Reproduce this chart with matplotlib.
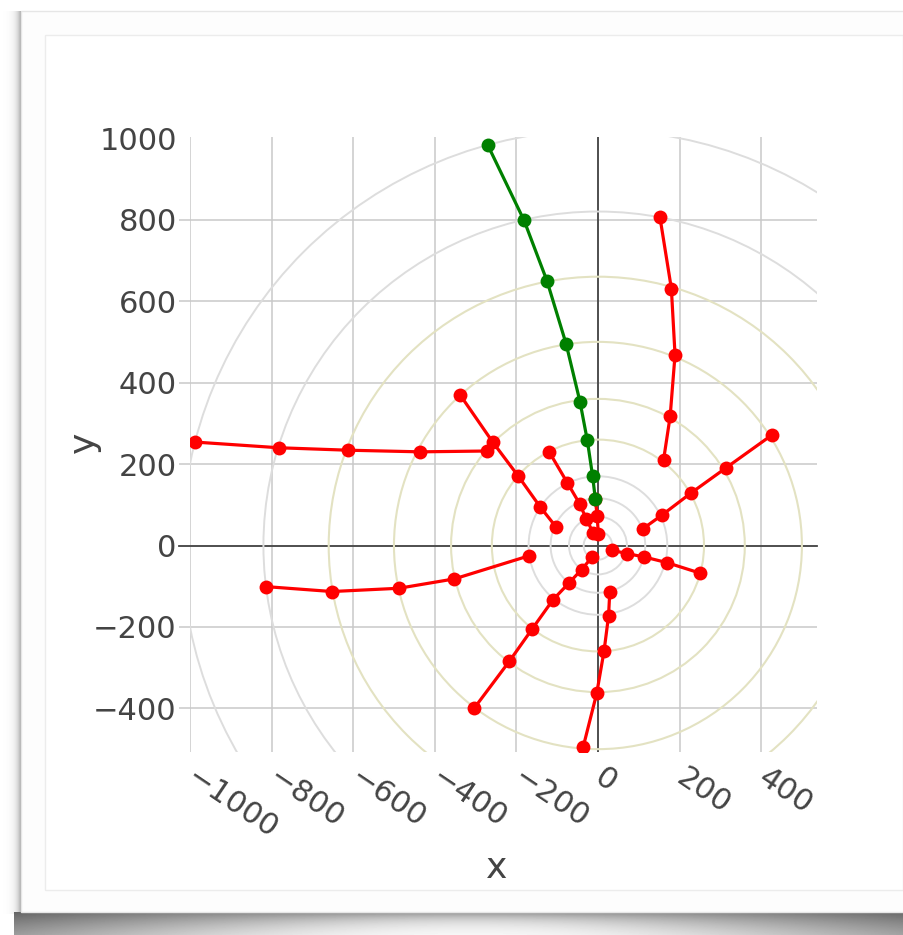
import numpy as np
import matplotlib
matplotlib.use("Agg")
import matplotlib.pyplot as plt
from matplotlib.patches import Circle, Rectangle

# ---- data -------------------------------------------------------------
green_x = [-6.5, -13, -26, -44, -78, -125, -181, -270]
green_y = [115, 170, 258, 353, 495, 650, 798, 983]

red_traces = [
    ([161, 177, 189, 180, 152], [211, 317, 468, 631, 806]),
    ([110, 156, 227, 313, 426], [41, 74, 128, 190, 271]),
    ([33.5, 72, 113, 169, 251], [-11.5, -20, -28, -42, -68]),
    ([29, 26, 15, -3, -36], [-114, -173, -259, -363, -494]),
    ([-14, -40, -71, -110, -162, -217, -303], [-28, -59, -92, -133, -206, -284, -399]),
    ([-168, -352, -488, -652, -813], [-25, -82, -105, -113, -101]),
    ([-273, -436, -613, -782, -988], [232, 230, 234, 240, 254]),
    ([-103, -141, -195, -258, -338], [46, 94, 170, 254, 370]),
    ([-11.5, -29, -44, -75, -119], [31, 66, 101, 154, 229]),
    ([1, -2, -6.5], [29, 73, 115]),
]

ring_radii_inner = [35, 71, 116, 170]
ring_radii_mid = [260, 360, 500, 660]
ring_radii_outer = [820, 1020]

x_ticks = [-1000, -800, -600, -400, -200, 0, 200, 400]
y_ticks = [-400, -200, 0, 200, 400, 600, 800, 1000]

# ---- figure -----------------------------------------------------------
W, H, DPI = 904, 935, 100
plt.rcParams['font.family'] = ['DejaVu Sans']
fig = plt.figure(figsize=(W / DPI, H / DPI), dpi=DPI)
fig.patch.set_facecolor('white')

# card background with soft drop shadow
bg = fig.add_axes([0, 0, 1, 1], zorder=0)
bg.set_xlim(0, W)
bg.set_ylim(H, 0)
bg.axis('off')
yy, xx = np.mgrid[0:H, 0:W].astype(float)
u2 = ((xx - 470.0) / 450.0) ** 2
d = yy - 912.0
thick = 9.0 + 40.0 * u2
amp = 0.42 + 0.18 * u2
bottom = np.where((d >= 0) & (xx >= 14), amp * np.exp(-d / thick), 0.0)
dl = 21.0 - xx
left = np.where((dl >= 0) & (yy > 10) & (yy < 914), 0.40 * np.exp(-dl / 4.0), 0.0)
shade = 1.0 - np.maximum(bottom, left)
bg.imshow(shade, cmap='gray', vmin=0, vmax=1, extent=(0, W, H, 0),
          interpolation='bilinear', aspect='auto')
bg.add_patch(Rectangle((21, 11), W, 901, facecolor='#fdfdfd',
                       edgecolor='#e6e6e6', lw=1.0))
bg.add_patch(Rectangle((45, 35), 858, 855, facecolor='white',
                       edgecolor='#ececec', lw=1.0))

# ---- plot area --------------------------------------------------------
L, R, T, B = 190, 817, 137, 752
ax = fig.add_axes([L / W, 1 - B / H, (R - L) / W, (B - T) / H], zorder=2)
ax.set_facecolor('none')
ax.set_xlim(-1000, 537)
ax.set_ylim(-507, 1003)
for s in ax.spines.values():
    s.set_visible(False)
ax.set_axisbelow(True)

ax.set_xticks(x_ticks)
ax.set_yticks(y_ticks)
ax.set_xticklabels([f"{v:d}".replace('-', '\u2212') for v in x_ticks])
ax.set_yticklabels([f"{v:d}".replace('-', '\u2212') for v in y_ticks])
ax.grid(True, color='#c9c9c9', lw=1.1)
ax.tick_params(axis='x', length=0, pad=16.5, labelsize=22, labelcolor='#444444')
ax.tick_params(axis='y', length=8, width=1.1, color='#c9c9c9', pad=1.5,
               labelsize=22, labelcolor='#444444')
for lab in ax.get_xticklabels():
    lab.set_rotation(-34)
    lab.set_ha('left')
    lab.set_va('center')
    lab.set_rotation_mode('anchor')
top_tick = ax.yaxis.get_major_ticks()[-1]
top_tick.gridline.set_visible(False)
top_tick.tick1line.set_visible(False)

# zero lines
ax.axhline(0, xmin=-11 / (R - L), xmax=1, color='#444444', lw=1.3,
           zorder=1, clip_on=False)
ax.axvline(0, color='#444444', lw=1.3, zorder=1)

# concentric rings
for r in ring_radii_inner + ring_radii_outer:
    ax.add_patch(Circle((0, 0), r, fill=False, edgecolor='#dddddd', lw=1.4, zorder=1.2))
for r in ring_radii_mid:
    ax.add_patch(Circle((0, 0), r, fill=False, edgecolor='#e3e2c2', lw=1.5, zorder=1.2))

# trajectories
for xs, ys in red_traces:
    ax.plot(xs, ys, '-o', color='#ff0000', lw=2.3, ms=10, mec='none', zorder=3)
ax.plot(green_x, green_y, '-o', color='#008000', lw=2.3, ms=10, mec='none', zorder=4)

ax.set_xlabel('x', fontsize=26, color='#444444')
ax.xaxis.set_label_coords((497 - L) / (R - L), (B - 868) / (B - T))
ax.xaxis.label.set_va('center')
ax.set_ylabel('y', fontsize=26, color='#444444')
ax.yaxis.set_label_coords((84 - L) / (R - L), (B - 442) / (B - T))
ax.yaxis.label.set_va('center')

fig.savefig('out.png', dpi=DPI)
